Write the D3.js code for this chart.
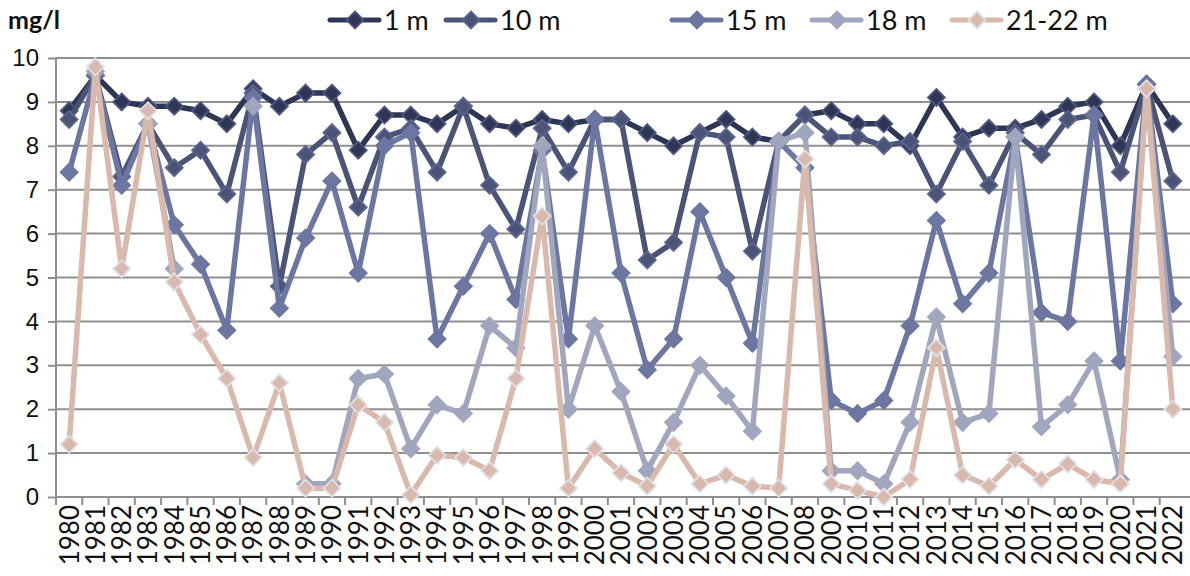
<!DOCTYPE html>
<html>
<head>
<meta charset="utf-8">
<script src="https://cdn.jsdelivr.net/npm/d3@7"></script>
<style>
  body { margin: 0; background: #fff; }
  svg { display: block; font-family: "Lato", "Noto Sans", sans-serif; }
</style>
</head>
<body>
<div id="chart"></div>
<script>
// Years on the x axis
const years = d3.range(1980, 2023).map(String);

// Oxygen values per depth (mg/l), null = no measurement
const m1 = [8.8, 9.6, 9.0, 8.9, 8.9, 8.8, 8.5, 9.3, 8.9, 9.2, 9.2, 7.9, 8.7, 8.7, 8.5, 8.9, 8.5, 8.4, 8.6, 8.5, 8.6, 8.6, 8.3, 8.0, 8.3, 8.6, 8.2, 8.1, 8.7, 8.8, 8.5, 8.5, 8.0, 9.1, 8.2, 8.4, 8.4, 8.6, 8.9, 9.0, 8.0, 9.4, 8.5];
const m10 = [8.6, 9.6, 7.3, 8.5, 7.5, 7.9, 6.9, 9.2, 4.8, 7.8, 8.3, 6.6, 8.2, 8.4, 7.4, 8.9, 7.1, 6.1, 8.4, 7.4, 8.6, 8.6, 5.4, 5.8, 8.3, 8.2, 5.6, 8.1, 8.7, 8.2, 8.2, 8.0, 8.1, 6.9, 8.1, 7.1, 8.3, 7.8, 8.6, 8.7, 7.4, 9.4, 7.2];
const m15 = [7.4, 9.6, 7.1, 8.5, 6.2, 5.3, 3.8, 9.1, 4.3, 5.9, 7.2, 5.1, 8.0, 8.3, 3.6, 4.8, 6.0, 4.5, 7.9, 3.6, 8.6, 5.1, 2.9, 3.6, 6.5, 5.0, 3.5, 8.1, 7.5, 2.2, 1.9, 2.2, 3.9, 6.3, 4.4, 5.1, 8.2, 4.2, 4.0, 8.7, 3.1, 9.4, 4.4];
const m18 = [null, 9.7, null, 8.5, 5.2, null, null, 8.9, null, 0.3, 0.3, 2.7, 2.8, 1.1, 2.1, 1.9, 3.9, 3.4, 8.0, 2.0, 3.9, 2.4, 0.6, 1.7, 3.0, 2.3, 1.5, 8.1, 8.3, 0.6, 0.6, 0.3, 1.7, 4.1, 1.7, 1.9, 8.2, 1.6, 2.1, 3.1, 0.4, 9.3, 3.2];
const m21 = [1.2, 9.8, 5.2, 8.8, 4.9, 3.7, 2.7, 0.9, 2.6, 0.2, 0.2, 2.1, 1.7, 0.05, 0.95, 0.9, 0.6, 2.7, 6.4, 0.2, 1.1, 0.55, 0.25, 1.2, 0.3, 0.5, 0.25, 0.2, 7.7, 0.3, 0.15, 0.0, 0.4, 3.4, 0.5, 0.25, 0.85, 0.4, 0.75, 0.4, 0.3, 9.3, 2.0];

const seriesNames = ["1 m", "10 m", "15 m", "18 m", "21-22 m"];
const yTicks = [0, 1, 2, 3, 4, 5, 6, 7, 8, 9, 10];

const series = [
  { name: seriesNames[0], values: m1, line: "#2f3654", fill: "#2f3654", edge: "#4d5783" },
  { name: seriesNames[1], values: m10, line: "#4b5476", fill: "#4b5476", edge: "#5b6590" },
  { name: seriesNames[2], values: m15, line: "#6b76a1", fill: "#6b76a1", edge: "#6b76a1" },
  { name: seriesNames[3], values: m18, line: "#a0a6bd", fill: "#a0a6bd", edge: "#a0a6bd" },
  { name: seriesNames[4], values: m21, line: "#d8b9ab", fill: "#d8b9ab", edge: "#dfdfe6" },
];

const W = 1190, H = 576;
const plot = { left: 56, right: 1186, top: 58, bottom: 497 };

const svg = d3.select("#chart").append("svg")
  .attr("width", W)
  .attr("height", H);

const x = d3.scaleBand().domain(years).range([plot.left, plot.right]);
const y = d3.scaleLinear().domain([0, 10]).range([plot.bottom, plot.top]);

// gridlines + y labels
const yAxis = svg.append("g")
  .attr("transform", `translate(${plot.left},0)`)
  .call(d3.axisLeft(y).tickValues(yTicks).tickSize(8).tickPadding(9).tickFormat(d3.format("d")));
yAxis.select(".domain").remove();
yAxis.selectAll(".tick line").attr("stroke", "#8f8f8f").attr("stroke-width", 2);
yAxis.selectAll(".tick text").attr("fill", "#111").style("font-size", "24px");
svg.append("g")
  .selectAll("line")
  .data(yTicks)
  .join("line")
  .attr("x1", plot.left)
  .attr("x2", W)
  .attr("y1", (d) => y(d))
  .attr("y2", (d) => y(d))
  .attr("stroke", "#8f8f8f")
  .attr("stroke-width", 2);

// vertical axis line
svg.append("line")
  .attr("x1", plot.left).attr("x2", plot.left)
  .attr("y1", plot.top).attr("y2", plot.bottom)
  .attr("stroke", "#8f8f8f").attr("stroke-width", 2);

// x axis: ticks between categories
svg.append("g")
  .selectAll("line")
  .data(d3.range(years.length))
  .join("line")
  .attr("x1", (i) => plot.left + i * x.step())
  .attr("x2", (i) => plot.left + i * x.step())
  .attr("y1", plot.bottom)
  .attr("y2", plot.bottom + 8)
  .attr("stroke", "#8f8f8f")
  .attr("stroke-width", 2);

svg.append("g")
  .selectAll("text")
  .data(years)
  .join("text")
  .attr("transform", (d) => `translate(${x(d) + x.bandwidth() / 2},505) rotate(-90)`)
  .attr("text-anchor", "end")
  .attr("dy", "0.36em")
  .attr("fill", "#111")
  .style("font-size", "26px")
  .text((d) => d);

// series
const line = d3.line()
  .defined((d) => d != null)
  .x((d, i) => x(years[i]) + x.bandwidth() / 2)
  .y((d) => y(d));

const diamond = (s) => `M0,${-s}L${s},0L0,${s}L${-s},0Z`;

series.forEach((s) => {
  const g = svg.append("g");
  g.append("path")
    .attr("d", line(s.values))
    .attr("fill", "none")
    .attr("stroke", s.line)
    .attr("stroke-width", 5.5)
    .attr("stroke-linejoin", "round");
  g.selectAll("path.pt")
    .data(s.values.map((v, i) => ({ v, year: years[i] })).filter((d) => d.v != null))
    .join("path")
    .attr("class", "pt")
    .attr("d", diamond(8.5))
    .attr("transform", (d) => `translate(${x(d.year) + x.bandwidth() / 2},${y(d.v)})`)
    .attr("fill", s.fill)
    .attr("stroke", s.edge)
    .attr("stroke-width", 1.8);
});

// title
svg.append("text")
  .attr("x", 8).attr("y", 29)
  .attr("font-weight", "bold")
  .attr("fill", "#111")
  .style("font-size", "25px")
  .text("mg/l");

// legend
const legendX = [330, 446, 672, 812, 952];
const legend = svg.append("g")
  .selectAll("g")
  .data(series)
  .join("g")
  .attr("transform", (d, i) => `translate(${legendX[i]},20)`);
legend.append("line")
  .attr("x1", 0).attr("x2", 49)
  .attr("stroke", (d) => d.line)
  .attr("stroke-width", 5)
  .attr("stroke-linecap", "round");
legend.append("path")
  .attr("d", diamond(8.5))
  .attr("transform", "translate(25,0)")
  .attr("fill", (d) => d.fill)
  .attr("stroke", (d) => d.edge)
  .attr("stroke-width", 1.8);
legend.append("text")
  .attr("x", 54)
  .attr("dy", "0.36em")
  .attr("fill", "#111")
  .style("font-size", "27px")
  .text((d) => d.name);
</script>
</body>
</html>
